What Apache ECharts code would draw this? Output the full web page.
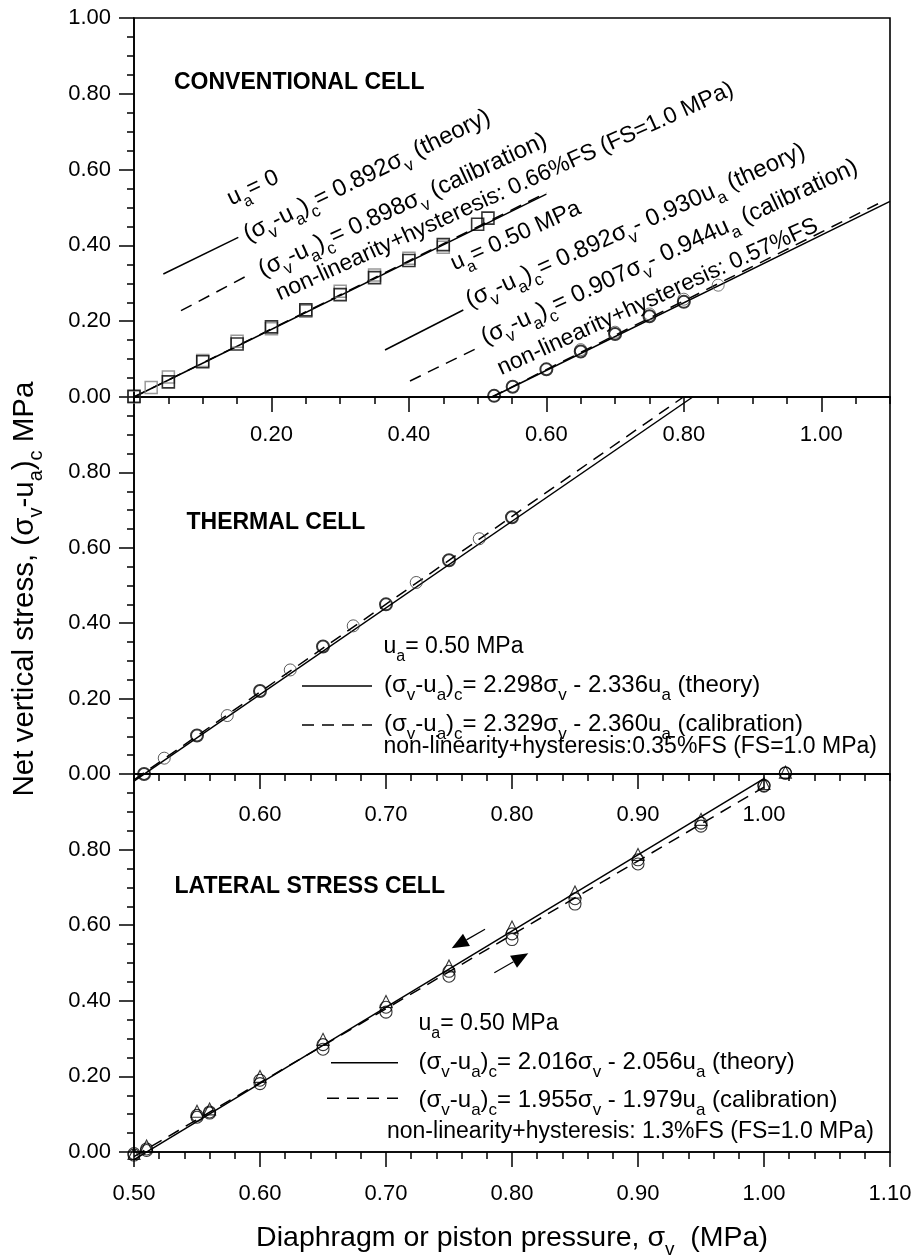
<!DOCTYPE html>
<html>
<head>
<meta charset="utf-8">
<script src="https://cdn.jsdelivr.net/npm/echarts@6/dist/echarts.min.js"></script>
<style>
  html, body { margin: 0; padding: 0; background: #fff; }
  #c { width: 915px; height: 1259px; }
</style>
</head>
<body>
<div id="c"></div>
<script>
// ---------------- data ----------------
// Conventional cell, ua = 0: black squares and grey squares (two passes)
const convSqBlackX = [0, 0.05, 0.10, 0.15, 0.20, 0.25, 0.30, 0.35, 0.40, 0.45, 0.50, 0.515];
const convSqBlackY = [0.002, 0.040, 0.093, 0.140, 0.185, 0.230, 0.270, 0.315, 0.360, 0.402, 0.456, 0.472];
const convSqGreyX = [0, 0.025, 0.05, 0.10, 0.15, 0.20, 0.25, 0.30, 0.35, 0.40, 0.45];
const convSqGreyY = [0.000, 0.025, 0.053, 0.096, 0.147, 0.180, 0.226, 0.279, 0.322, 0.366, 0.395];

// Conventional cell, ua = 0.50 MPa
const convCirBoldX = [0.524, 0.551, 0.60, 0.65, 0.70, 0.75, 0.80];
const convCirBoldY = [0.003, 0.027, 0.073, 0.120, 0.166, 0.213, 0.251];
const convCirThinX = [0.65, 0.70, 0.75, 0.80, 0.85];
const convCirThinY = [0.125, 0.171, 0.219, 0.258, 0.295];

// Thermal cell, ua = 0.50 MPa
const thermBoldX = [0.508, 0.55, 0.60, 0.65, 0.70, 0.75, 0.80];
const thermBoldY = [0.000, 0.102, 0.220, 0.338, 0.450, 0.567, 0.681];
const thermThinX = [0.524, 0.574, 0.624, 0.674, 0.724, 0.774];
const thermThinY = [0.042, 0.155, 0.276, 0.393, 0.508, 0.624];

// Lateral stress cell, ua = 0.50 MPa
const latX    = [0.50, 0.51, 0.55, 0.56, 0.60, 0.65, 0.70, 0.75, 0.80, 0.85, 0.90, 0.95, 1.00, 1.017];
const latTriY = [-0.004, 0.016, 0.108, 0.114, 0.200, 0.298, 0.398, 0.492, 0.595, 0.688, 0.787, 0.880, 0.975, 1.005];
const latCirAY = [-0.008, 0.004, 0.092, 0.103, 0.181, 0.272, 0.370, 0.465, 0.562, 0.656, 0.762, 0.862, 0.968, 1.002];
const latCirBY = [-0.004, 0.008, 0.097, 0.106, 0.190, 0.284, 0.383, 0.478, 0.577, 0.670, 0.773, 0.870, 0.970, 1.003];

// Fitted relations (σv-ua)c = a·σv - b·ua  ->  [a, b, ua]
const convTheory0  = [0.892, 0.000, 0.00];
const convCalib0   = [0.898, 0.000, 0.00];
const convTheory50 = [0.892, 0.930, 0.50];
const convCalib50  = [0.907, 0.944, 0.50];
const thermTheory  = [2.298, 2.336, 0.50];
const thermCalib   = [2.329, 2.360, 0.50];
const latTheory    = [2.016, 2.056, 0.50];
const latCalib     = [1.955, 1.979, 0.50];

// σv spans of the fitted lines (null start = from zero stress, null end = up to 1.0 MPa)
const convSpan0    = [0.00, 0.60];
const convSpan50T  = [null, 1.10];
const convSpan50C  = [null, 1.09];
const thermSpan    = [0.50, null];
const latSpan      = [0.50, 1.00];

// tick values
const xTicksTop    = [0.2, 0.4, 0.6, 0.8, 1.0];
const xTicksMid    = [0.6, 0.7, 0.8, 0.9, 1.0];
const xTicksBottom = [0.5, 0.6, 0.7, 0.8, 0.9, 1.0, 1.1];
const yTicksAll    = [0, 0.2, 0.4, 0.6, 0.8, 1.0];
const yLabelsLower = [0, 0.2, 0.4, 0.6, 0.8];

// ---------------- helpers ----------------
const FONT = '"Liberation Sans", Arial, Helvetica, sans-serif';
const INK = '#000';

function pairs(xs, ys) { return xs.map((x, i) => [x, ys[i]]); }

function fitLine(coef, span) {
  const [a, b, ua] = coef;
  const f = s => a * s - b * ua;
  const s0 = span[0] === null ? (b * ua) / a : span[0];
  const s1 = span[1] === null ? (1 + b * ua) / a : span[1];
  return [[s0, f(s0)], [s1, f(s1)]];
}

const fmt2 = v => (Math.round(v * 100) / 100).toFixed(2);

function xMinor(grid, min, max, step) {
  return {
    type: 'value', gridIndex: grid, min, max, interval: step, position: 'bottom',
    axisLine: { show: true, onZero: false, lineStyle: { color: INK, width: 1.6 } },
    axisTick: { show: true, inside: false, length: 7, lineStyle: { color: INK, width: 1.5 } },
    axisLabel: { show: false }, splitLine: { show: false }
  };
}
function xMajor(grid, min, max, step, ticks, margin) {
  return {
    type: 'value', gridIndex: grid, min, max, interval: step, position: 'bottom',
    axisLine: { show: false, onZero: false },
    axisTick: { show: true, inside: false, length: 15, customValues: ticks, lineStyle: { color: INK, width: 1.5 } },
    axisLabel: { show: true, customValues: ticks, formatter: fmt2, margin,
      fontSize: 22, fontFamily: FONT, color: INK },
    splitLine: { show: false }
  };
}
function yMinor(grid) {
  return {
    type: 'value', gridIndex: grid, min: 0, max: 1, interval: 0.05, position: 'left',
    axisLine: { show: true, onZero: false, lineStyle: { color: INK, width: 1.6 } },
    axisTick: { show: true, inside: false, length: 7, lineStyle: { color: INK, width: 1.5 } },
    axisLabel: { show: false }, splitLine: { show: false }
  };
}
function yMajor(grid, labels) {
  return {
    type: 'value', gridIndex: grid, min: 0, max: 1, interval: 0.05, position: 'left',
    axisLine: { show: false, onZero: false },
    axisTick: { show: true, inside: false, length: 15, customValues: yTicksAll, lineStyle: { color: INK, width: 1.5 } },
    axisLabel: { show: true, customValues: labels, formatter: fmt2, margin: 23,
      fontSize: 22, fontFamily: FONT, color: INK },
    splitLine: { show: false }
  };
}

function lineSeries(grid, data, dashed, clip) {
  return {
    type: 'line', xAxisIndex: grid * 2, yAxisIndex: grid * 2, data,
    symbol: 'none', silent: true, clip: !!clip, z: 3,
    lineStyle: { color: INK, width: 1.5, type: dashed ? [12, 8] : 'solid' }
  };
}
function pointSeries(grid, data, symbol, color, width) {
  return {
    type: 'scatter', xAxisIndex: grid * 2, yAxisIndex: grid * 2, data,
    symbol, symbolSize: 12, silent: true, clip: false, z: 4,
    itemStyle: { color: 'rgba(0,0,0,0)', borderColor: color, borderWidth: width }
  };
}

// rich text: "_x" marks a subscript character
function rt(str, tag) {
  return str.split(/_(\w)/).map((p, i) => p === '' ? '' : (i % 2 ? `{s${tag}|${p}}` : `{n${tag}|${p}}`)).join('');
}
const RICH = {
  n:  { fontFamily: FONT, fontSize: 23, lineHeight: 36, fill: INK },
  s:  { fontFamily: FONT, fontSize: 16, lineHeight: 36, verticalAlign: 'bottom', fill: INK },
  nE: { fontFamily: FONT, fontSize: 24, lineHeight: 37, fill: INK },
  sE: { fontFamily: FONT, fontSize: 17, lineHeight: 37, verticalAlign: 'bottom', fill: INK },
  nT: { fontFamily: FONT, fontSize: 28.5, lineHeight: 43, fill: INK },
  sT: { fontFamily: FONT, fontSize: 19, lineHeight: 43, verticalAlign: 'bottom', fill: INK },
  nY: { fontFamily: FONT, fontSize: 29.5, lineHeight: 44, fill: INK },
  sY: { fontFamily: FONT, fontSize: 20, lineHeight: 44, verticalAlign: 'bottom', fill: INK }
};

function label(x, y, str, rotDeg, align, tag) {
  return {
    type: 'text', x, y, rotation: (rotDeg || 0) * Math.PI / 180, silent: true, z: 10,
    style: {
      text: rt(str, tag || ''), rich: RICH, fill: INK, fontFamily: FONT, fontSize: 23,
      align: align || 'left', verticalAlign: 'middle',
      textAlign: align || 'left', textVerticalAlign: 'middle'
    }
  };
}
function heading(x, y, str) {
  return {
    type: 'text', x, y, silent: true, z: 10,
    style: { text: str, fill: INK, fontFamily: FONT, fontSize: 23, fontWeight: 'bold',
      align: 'left', verticalAlign: 'middle', textAlign: 'left', textVerticalAlign: 'middle' }
  };
}
function keyLine(x1, y1, x2, y2, dashed) {
  return {
    type: 'line', silent: true, z: 10, shape: { x1, y1, x2, y2 },
    style: { stroke: INK, lineWidth: 1.5, lineDash: dashed ? [12, 8] : null }
  };
}
function arrow(tx, ty, hx, hy) {
  const len = Math.hypot(hx - tx, hy - ty);
  const dx = (hx - tx) / len, dy = (hy - ty) / len;
  const hl = 17, hw = 7;
  const bx = hx - dx * hl, by = hy - dy * hl;
  return [
    { type: 'line', silent: true, z: 10, shape: { x1: tx, y1: ty, x2: bx, y2: by },
      style: { stroke: INK, lineWidth: 1.2 } },
    { type: 'polygon', silent: true, z: 10,
      shape: { points: [[hx, hy], [bx - dy * hw, by + dx * hw], [bx + dy * hw, by - dx * hw]] },
      style: { fill: INK } }
  ];
}

// ---------------- chart ----------------
const chart = echarts.init(document.getElementById('c'), null, { renderer: 'canvas', width: 915, height: 1259 });

const gridBase = { left: 134, width: 756, show: true, borderColor: INK, borderWidth: 1.6,
  backgroundColor: 'rgba(0,0,0,0)', containLabel: false, outerBoundsMode: 'none' };

chart.setOption({
  animation: false,
  backgroundColor: '#fff',
  grid: [
    Object.assign({ top: 18, height: 379 }, gridBase),
    Object.assign({ top: 397, height: 377 }, gridBase),
    Object.assign({ top: 774, height: 378 }, gridBase)
  ],
  xAxis: [
    xMinor(0, 0, 1.1, 0.05), xMajor(0, 0, 1.1, 0.05, xTicksTop, 27),
    xMinor(1, 0.5, 1.1, 0.02), xMajor(1, 0.5, 1.1, 0.02, xTicksMid, 30),
    xMinor(2, 0.5, 1.1, 0.02), xMajor(2, 0.5, 1.1, 0.02, xTicksBottom, 31)
  ],
  yAxis: [
    yMinor(0), yMajor(0, yTicksAll),
    yMinor(1), yMajor(1, yLabelsLower),
    yMinor(2), yMajor(2, yLabelsLower)
  ],
  series: [
    // conventional cell
    lineSeries(0, fitLine(convTheory0, convSpan0), false),
    lineSeries(0, fitLine(convCalib0, convSpan0), true),
    lineSeries(0, fitLine(convTheory50, convSpan50T), false),
    lineSeries(0, fitLine(convCalib50, convSpan50C), true),
    pointSeries(0, pairs(convSqGreyX, convSqGreyY), 'rect', '#808080', 1.5),
    pointSeries(0, pairs(convSqBlackX, convSqBlackY), 'rect', INK, 1.6),
    pointSeries(0, pairs(convCirThinX, convCirThinY), 'circle', '#555', 1),
    pointSeries(0, pairs(convCirBoldX, convCirBoldY), 'circle', INK, 2),
    // thermal cell
    lineSeries(1, fitLine(thermTheory, thermSpan), false, false),
    lineSeries(1, fitLine(thermCalib, thermSpan), true, false),
    pointSeries(1, pairs(thermThinX, thermThinY), 'circle', '#333', 1),
    pointSeries(1, pairs(thermBoldX, thermBoldY), 'circle', INK, 2),
    // lateral stress cell
    lineSeries(2, fitLine(latTheory, latSpan), false, false),
    lineSeries(2, fitLine(latCalib, latSpan), true, false),
    pointSeries(2, pairs(latX, latCirAY), 'circle', INK, 1.1),
    pointSeries(2, pairs(latX, latCirBY), 'circle', INK, 1.1),
    pointSeries(2, pairs(latX, latTriY), 'triangle', INK, 1.1)
  ],
  graphic: { elements: [
    heading(174, 83, 'CONVENTIONAL CELL'),
    heading(186.5, 522.5, 'THERMAL CELL'),
    heading(174.5, 887, 'LATERAL STRESS CELL'),

    // conventional cell key
    keyLine(163.3, 274, 238.3, 237.3, false),
    keyLine(181, 310.7, 251.7, 273.3, true),
    keyLine(385, 350, 463.3, 310, false),
    keyLine(410, 381, 480, 346.7, true),
    label(253, 188, 'u_a= 0', 25.5, 'center'),
    label(367, 175.7, '(σ_v-u_a)_c= 0.892σ_v (theory)', 26.2, 'center', 'E'),
    label(402.8, 205.3, '(σ_v-u_a)_c= 0.898σ_v (calibration)', 24.7, 'center', 'E'),
    label(504.8, 191.5, 'non-linearity+hysteresis: 0.66%FS (FS=1.0 MPa)', 24.4, 'center'),
    label(515.7, 236, 'u_a= 0.50 MPa', 24.3, 'center'),
    label(635.5, 226, '(σ_v-u_a)_c= 0.892σ_v- 0.930u_a (theory)', 24.2, 'center', 'E'),
    label(669.5, 252.4, '(σ_v-u_a)_c= 0.907σ_v- 0.944u_a (calibration)', 24.8, 'center', 'E'),
    label(657.7, 297, 'non-linearity+hysteresis: 0.57%FS', 24.5, 'center'),

    // thermal cell key
    keyLine(302, 686, 372, 686, false),
    keyLine(302, 725, 372, 725, true),
    label(383.5, 647, 'u_a= 0.50 MPa'),
    label(384, 685.3, '(σ_v-u_a)_c= 2.298σ_v - 2.336u_a (theory)', 0, 'left', 'E'),
    label(384, 724, '(σ_v-u_a)_c= 2.329σ_v - 2.360u_a (calibration)', 0, 'left', 'E'),
    label(383.5, 747, 'non-linearity+hysteresis:0.35%FS (FS=1.0 MPa)'),

    // lateral stress cell key
    keyLine(331, 1062.7, 398, 1062.7, false),
    keyLine(327, 1098.3, 398, 1098.3, true),
    label(418.5, 1024, 'u_a= 0.50 MPa'),
    label(418.5, 1062, '(σ_v-u_a)_c= 2.016σ_v - 2.056u_a (theory)', 0, 'left', 'E'),
    label(418.5, 1100, '(σ_v-u_a)_c= 1.955σ_v - 1.979u_a (calibration)', 0, 'left', 'E'),
    label(387, 1132, 'non-linearity+hysteresis: 1.3%FS (FS=1.0 MPa)'),
    ...arrow(485, 929.3, 451.7, 948.3),
    ...arrow(494.3, 972.7, 528.3, 953.3),

    // axis titles
    label(512, 1238, 'Diaphragm or piston pressure, σ_v  (MPa)', 0, 'center', 'T'),
    label(24.5, 589, 'Net vertical stress, (σ_v-u_a)_c MPa', 90, 'center', 'Y')
  ] }
});
</script>
</body>
</html>
